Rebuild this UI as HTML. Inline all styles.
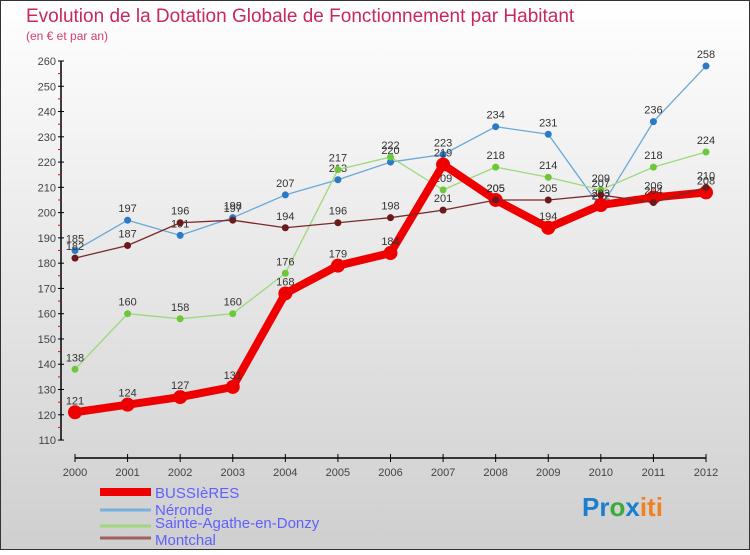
<!DOCTYPE html>
<html><head><meta charset="utf-8"><style>
body{margin:0;width:750px;height:550px;overflow:hidden;font-family:"Liberation Sans",sans-serif}
svg text{font-family:"Liberation Sans",sans-serif}
</style></head><body>
<svg id="c" width="750" height="550" xmlns="http://www.w3.org/2000/svg">
<defs><linearGradient id="bg" x1="0" y1="0" x2="0" y2="1"><stop offset="0" stop-color="#ffffff"/><stop offset="1" stop-color="#cfcfcf"/></linearGradient></defs>
<rect x="0.5" y="0.5" width="749" height="549" fill="url(#bg)" stroke="#333"/>
<text x="26" y="22" font-size="19" fill="#c8285a">Evolution de la Dotation Globale de Fonctionnement par Habitant</text>
<text x="26" y="40" font-size="12" fill="#d04070">(en € et par an)</text>
<g id="axes"></g><g id="series"></g>
<g>
<rect x="100" y="488" width="51" height="8" fill="#e00"/>
<text x="155" y="498" font-size="15" fill="#6060ff">BUSSIèRES</text>
<line x1="100" y1="510" x2="151" y2="510" stroke="#7ab0dc" stroke-width="3"/>
<text x="155" y="515" font-size="15" fill="#6060ff">Néronde</text>
<line x1="100" y1="526" x2="151" y2="526" stroke="#9ed87a" stroke-width="3"/>
<text x="155" y="528" font-size="15" fill="#6060ff">Sainte-Agathe-en-Donzy</text>
<line x1="100" y1="538" x2="151" y2="538" stroke="#a06060" stroke-width="3"/>
<text x="155" y="545" font-size="15" fill="#6060ff">Montchal</text>
</g>
<text x="582" y="516" font-size="26" font-weight="bold"><tspan fill="#1a7fd0">Pr</tspan><tspan fill="#3aaa3a">o</tspan><tspan fill="#1a7fd0">x</tspan><tspan fill="#f08020">iti</tspan></text>
</svg>
<script>
const years=[2000,2001,2002,2003,2004,2005,2006,2007,2008,2009,2010,2011,2012];
const bussieres=[121,124,127,131,168,179,184,219,205,194,203,206,208];
const neronde=[185,197,191,198,207,213,220,223,234,231,202,236,258];
const sainteAgathe=[138,160,158,160,176,217,222,209,218,214,209,218,224];
const montchal=[182,187,196,197,194,196,198,201,205,205,207,204,210];
const yTicks=[110,120,130,140,150,160,170,180,190,200,210,220,230,240,250,260];
const NS="http://www.w3.org/2000/svg";
const X=i=>75+i*(706-75)/(years.length-1);
const Y=v=>61+(260-v)*2.527;
function mk(t,a,p){const e=document.createElementNS(NS,t);for(const k in a)e.setAttribute(k,a[k]);p.appendChild(e);return e;}
const ax=document.getElementById('axes'),sg=document.getElementById('series');
const yl=mk('line',{x1:61,y1:Y(260),x2:61,y2:Y(110),stroke:'#000','stroke-width':1.5},ax);


yTicks.forEach(v=>{
 mk('line',{x1:58,y1:Y(v),x2:64,y2:Y(v),stroke:'#000'},ax);
 if(v<260)mk('line',{x1:58,y1:Y(v+5),x2:61,y2:Y(v+5),stroke:'#e00'},ax);
 const t=mk('text',{x:56,y:Y(v)+4,'font-size':11,fill:'#444','text-anchor':'end'},ax);t.textContent=v;
 
 
});
const xl=mk('line',{x1:X(0),y1:458,x2:X(12),y2:458,stroke:'#000','stroke-width':1.5},ax);


years.forEach((y,i)=>{
 mk('line',{x1:X(i),y1:454,x2:X(i),y2:462,stroke:'#000'},ax);
 const t=mk('text',{x:X(i),y:476,'font-size':11,fill:'#444','text-anchor':'middle'},ax);t.textContent=y;
 
 
});
function series(data,name,color,dot,w,r){
 const g=mk('g',{},sg);
 
 
 mk('polyline',{points:data.map((v,i)=>X(i)+','+Y(v)).join(' '),fill:'none',stroke:color,'stroke-width':w,'stroke-linejoin':'round'},g);
 data.forEach((v,i)=>{
  const c=mk('circle',{cx:X(i),cy:Y(v),r:r,fill:dot},g);
  
  
  const t=mk('text',{x:X(i),y:Y(v)-8,'font-size':11,fill:'#333','text-anchor':'middle'},g);t.textContent=v;
  
  
 });
}
series(neronde,'neronde','#6aa8d8','#2a7ac8',1.3,3.5);
series(sainteAgathe,'sainte-agathe','#9ed87a','#6cc83a',1.3,3.5);
series(bussieres,'bussieres','#ee0000','#ee0000',8,7);
series(montchal,'montchal','#7a2a2a','#6a1a1a',1.3,3.5);
</script>
</body></html>
